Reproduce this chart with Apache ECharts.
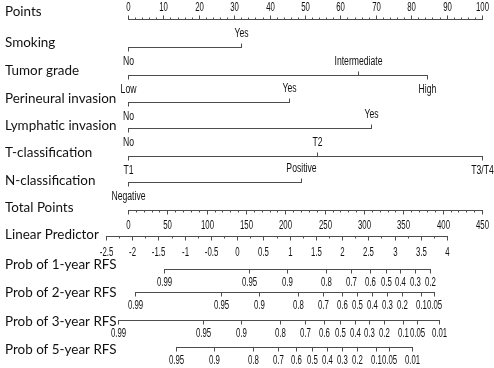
<!DOCTYPE html>
<html><head><meta charset="utf-8">
<script src="https://cdn.jsdelivr.net/npm/echarts@6/dist/echarts.min.js"></script>
<style>html,body{margin:0;padding:0;background:#fff}#c{width:494px;height:368px}</style>
</head><body><div id="c"></div>
<script>
// ---------------- data ----------------
const rowNames = ['Points','Smoking','Tumor grade','Perineural invasion','Lymphatic invasion',
  'T-classification','N-classification','Total Points','Linear Predictor',
  'Prob of 1-year RFS','Prob of 2-year RFS','Prob of 3-year RFS','Prob of 5-year RFS'];

const pointsTicks = [0,10,20,30,40,50,60,70,80,90,100];
const pointsMinorStep = 2;

const smokingLevels = ['No','Yes'];
const smokingPoints = [0, 32];
const gradeLevels = ['Low','Intermediate','High'];
const gradePoints = [0, 65, 84.4];
const perineuralLevels = ['No','Yes'];
const perineuralPoints = [0, 45.5];
const lymphaticLevels = ['No','Yes'];
const lymphaticPoints = [0, 68.6];
const tLevels = ['T1','T2','T3/T4'];
const tPoints = [0, 53.4, 100];
const nLevels = ['Negative','Positive'];
const nPoints = [0, 48.9];

const totalTicks = [0,50,100,150,200,250,300,350,400,450];
const totalMinorStep = 10;
const lpTicks = [-2.5,-2,-1.5,-1,-0.5,0,0.5,1,1.5,2,2.5,3,3.5,4];
const lpMinorStep = 0.25;

// probability ticks, positioned on the linear-predictor scale
const prob1Labels = ['0.99','0.95','0.9','0.8','0.7','0.6','0.5','0.4','0.3','0.2'];
const prob1LP     = [-1.40, 0.23, 0.95, 1.70, 2.17, 2.53, 2.83, 3.11, 3.39, 3.68];
const prob2Labels = ['0.99','0.95','0.9','0.8','0.7','0.6','0.5','0.4','0.3','0.2','0.1','0.05'];
const prob2LP     = [-1.94, -0.31, 0.41, 1.16, 1.63, 1.99, 2.29, 2.57, 2.85, 3.14, 3.50, 3.76];
const prob3Labels = ['0.99','0.95','0.9','0.8','0.7','0.6','0.5','0.4','0.3','0.2','0.1','0.05','0.01'];
const prob3LP     = [-2.28, -0.65, 0.07, 0.82, 1.29, 1.65, 1.96, 2.24, 2.51, 2.80, 3.16, 3.42, 3.85];
const prob5Labels = ['0.95','0.9','0.8','0.7','0.6','0.5','0.4','0.3','0.2','0.1','0.05','0.01'];
const prob5LP     = [-1.17, -0.45, 0.30, 0.77, 1.13, 1.43, 1.71, 1.99, 2.28, 2.64, 2.90, 3.33];

// ---------------- layout & style ----------------
const W = 494, H = 368;
const LINE = '#4d4d4d', TEXT = '#111111';
const NAME_FONT = "Lato, 'Liberation Sans', sans-serif";
const NUM_FONT = "'Liberation Sans', Arial, sans-serif";
// pixel calibration of the three scales (value -> pixel)
const CAL = {
  points: {v:[0,100], px:[128,482]},
  total:  {v:[0,450], px:[128,482]},
  lp:     {v:[-2.5,4], px:[106,447]}
};
const axisOrder = ['points','total','lp'];
function axisRange(c){
  const k = (c.v[1]-c.v[0])/(c.px[1]-c.px[0]);
  return {min: c.v[0] - c.px[0]*k, max: c.v[1] + (W - c.px[1])*k};
}
function minorList(ticks, step){
  const out = [];
  const lo = ticks[0], hi = ticks[ticks.length-1];
  const n = Math.round((hi-lo)/step);
  for (let i=0;i<=n;i++){ const v = lo + i*step; if (!ticks.some(t=>Math.abs(t-v)<1e-9)) out.push(v); }
  return out;
}
function alt(n){ return Array.from({length:n},(_,i)=> i%2===0 ? 1 : -1); } // +1 below, -1 above

const rows = [
  {axis:'points', nameY:11, lineY:19, labels:pointsTicks.map(String), values:pointsTicks, dirs:pointsTicks.map(()=>-1), minor:minorList(pointsTicks,pointsMinorStep), off:12, num:true},
  {axis:'points', nameY:42, lineY:47, labels:smokingLevels, values:smokingPoints, dirs:alt(2), off:14},
  {axis:'points', nameY:70, lineY:75, labels:gradeLevels, values:gradePoints, dirs:alt(3), off:14},
  {axis:'points', nameY:98, lineY:102, labels:perineuralLevels, values:perineuralPoints, dirs:alt(2), off:14},
  {axis:'points', nameY:125, lineY:128, labels:lymphaticLevels, values:lymphaticPoints, dirs:alt(2), off:14},
  {axis:'points', nameY:152, lineY:156, labels:tLevels, values:tPoints, dirs:alt(3), off:14},
  {axis:'points', nameY:180, lineY:182, labels:nLevels, values:nPoints, dirs:alt(2), off:14},
  {axis:'total', nameY:207, lineY:210, labels:totalTicks.map(String), values:totalTicks, dirs:totalTicks.map(()=>1), minor:minorList(totalTicks,totalMinorStep), off:15, num:true},
  {axis:'lp', nameY:234, lineY:236, labels:lpTicks.map(String), values:lpTicks, dirs:lpTicks.map(()=>1), minor:minorList(lpTicks,lpMinorStep), off:16, num:true},
  {axis:'lp', nameY:264, lineY:269, labels:prob1Labels, values:prob1LP, dirs:prob1LP.map(()=>1), off:13, num:true},
  {axis:'lp', nameY:292, lineY:292, labels:prob2Labels, values:prob2LP, dirs:prob2LP.map(()=>1), off:13, num:true},
  {axis:'lp', nameY:321, lineY:320, labels:prob3Labels, values:prob3LP, dirs:prob3LP.map(()=>1), off:13, num:true},
  {axis:'lp', nameY:349, lineY:347, labels:prob5Labels, values:prob5LP, dirs:prob5LP.map(()=>1), off:13, num:true}
];
rows.forEach((r,i)=> r.name = rowNames[i]);

function txt(x, y, s, opt){
  return {type:'text', x:x, y:y, scaleX:opt.scaleX||1, silent:true,
    style:{text:s, x:0, y:0, fill:TEXT, fontSize:opt.size, fontFamily:opt.family,
      align:opt.align||'center', verticalAlign:'middle', textAlign:opt.align||'center', textVerticalAlign:'middle'}};
}

function makeRender(row){
  return function(params, api){
    const kids = [];
    const vmin = Math.min.apply(null,row.values), vmax = Math.max.apply(null,row.values);
    const a = api.coord([vmin,row.lineY]), b = api.coord([vmax,row.lineY]);
    const y = Math.round(a[1]) + 0.5;
    kids.push({type:'line', silent:true, shape:{x1:Math.round(a[0]), y1:y, x2:Math.round(b[0])+1, y2:y}, style:{stroke:LINE, lineWidth:1}});
    (row.minor||[]).forEach(v=>{
      const p = api.coord([v,row.lineY]); const x = Math.round(p[0])+0.5;
      const d = row.dirs[0];
      kids.push({type:'line', silent:true, shape:{x1:x,y1:y,x2:x,y2:y+d*2}, style:{stroke:LINE,lineWidth:1}});
    });
    row.values.forEach((v,i)=>{
      const p = api.coord([v,row.lineY]); const x = Math.round(p[0])+0.5;
      const d = row.dirs[i];
      kids.push({type:'line', silent:true, shape:{x1:x,y1:y,x2:x,y2:y+d*4}, style:{stroke:LINE,lineWidth:1}});
      kids.push(txt(x, y + d*row.off, row.labels[i], row.num ? {size:12, family:NUM_FONT, scaleX:0.65} : {size:12, family:NUM_FONT, scaleX:0.72}));
    });
    const np = api.coord([vmin,row.nameY]);
    kids.push(txt(5, np[1], row.name, {size:14, family:NAME_FONT, align:'left', scaleX:0.96}));
    return {type:'group', children:kids};
  };
}

const chart = echarts.init(document.getElementById('c'), null, {renderer:'canvas'});
chart.setOption({
  animation:false,
  backgroundColor:'#fff',
  grid:{left:0,right:0,top:0,bottom:0,containLabel:false},
  xAxis: axisOrder.map(k=>Object.assign({type:'value', show:false, gridIndex:0}, axisRange(CAL[k]))),
  yAxis: {type:'value', min:0, max:H, inverse:true, show:false},
  series: rows.map(r=>({type:'custom', xAxisIndex:axisOrder.indexOf(r.axis), yAxisIndex:0, clip:false,
    data:[[r.values[0], r.lineY]], renderItem:makeRender(r), silent:true}))
});
</script></body></html>
